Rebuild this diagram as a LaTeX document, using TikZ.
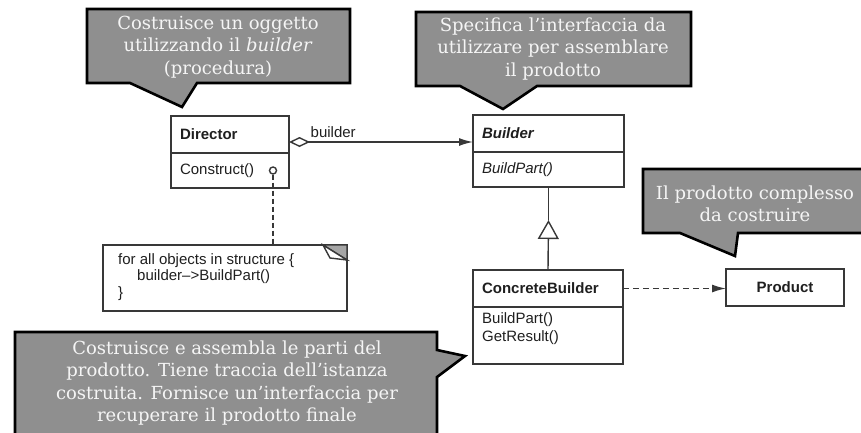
\documentclass[tikz,border=0pt]{standalone}
\usepackage{fontspec}
\setmainfont{DejaVu Serif}
\setsansfont{Liberation Sans}
\usetikzlibrary{positioning,arrows.meta}

\definecolor{umlline}{gray}{0.22}
\definecolor{umltext}{gray}{0.12}
\definecolor{calloutfill}{gray}{0.56}
\definecolor{callouttext}{gray}{0.96}

\newcommand{\umlfont}{\sffamily\fontsize{15}{18}\selectfont}

\tikzset{
  umlhead/.style={draw=umlline, line width=1.4pt, fill=white, anchor=north west,
    minimum height=37pt, inner xsep=9pt, outer sep=0pt, text width=#1, align=left,
    text=umltext, font=\umlfont\bfseries},
  umlbody/.style={umlhead=#1, font=\umlfont},
  umlconn/.style={draw=umlline, line width=1.4pt},
  assoc/.style={umlconn, -{Latex[length=14pt,width=8pt]}},
  callout/.style={draw=black, line width=2.6pt, fill=calloutfill, line join=miter},
  callouttext/.style={text=callouttext, align=center, font=\fontsize{18}{22.5}\selectfont},
}

\begin{document}
\begin{tikzpicture}[x=1pt,y=-1pt]
        \useasboundingbox (0,0) rectangle (861,432);
        % classes
        \node[umlhead=100pt] (director) at (171,116) {Director};
        \node[umlbody=100pt, minimum height=35pt, below=0pt of director] (directorops) {Construct()};
        \node[umlhead=133pt] (builder) at (473,115) {\itshape Builder};
        \node[umlbody=133pt, minimum height=35pt, below=0pt of builder] (builderops) {\itshape BuildPart()};
        \node[umlhead=132pt] (cbhead) at (473,270) {ConcreteBuilder};
        \node[umlbody=132pt, minimum height=57pt, below=0pt of cbhead] (cbbody) {};
        \node[anchor=north west, align=left, text=umltext, font=\umlfont, inner sep=0pt] (cbops)
          at ([shift={(9,5)}]cbbody.north west) {BuildPart()\\GetResult()};
        \node[umlhead=100pt, align=center] (product) at (726,269) {Product};
        % note
        \node[draw=umlline, line width=1.4pt, anchor=north west, minimum width=244pt,
          minimum height=66pt, outer sep=0pt] (note) at (103,245) {};
        \node[anchor=north west, align=left, text=umltext, inner sep=0pt,
          font=\sffamily\fontsize{15}{16.5}\selectfont] (notetext) at ([shift={(15,8)}]note.north west)
          {for all objects in structure \{\\\hspace*{19pt}builder–>BuildPart()\\\}};
        \draw[umlconn, fill=gray!70] ([xshift=-24pt]note.north east) -- (note.north east)
          -- ([yshift=-15pt]note.north east) -- cycle;
        \draw[umlconn, fill=white] ([xshift=-24pt]note.north east) -- ([shift={(-17,13)}]note.north east)
          -- ([yshift=-15pt]note.north east) -- cycle;
        \node[circle, draw=umlline, line width=1.4pt, inner sep=0pt, minimum size=7pt] (lolli)
          at ([xshift=-16pt]directorops.east) {};
        \draw[umlconn, dash pattern=on 5pt off 3pt] (lolli) -- (lolli |- note.north);
        % connectors
        \draw[assoc, {Diamond[open,length=21pt,width=10pt]}-{Latex[length=14pt,width=8pt]}]
          ([yshift=-7.5pt]director.east) -- ([yshift=-7.5pt]director.east -| builder.west)
          node[pos=0, anchor=south west, xshift=19pt, yshift=2pt, inner sep=2pt,
            text=umltext, font=\umlfont] (builderlbl) {builder};
        \coordinate (genapex) at ([yshift=-33pt]builderops.south);
        \draw[umlconn] (genapex) -- (builderops.south);
        \draw[umlconn, -{Triangle[open,length=19pt,width=21pt]}] (cbhead.north) -- (genapex);
        \draw[assoc, dash pattern=on 6pt off 4pt] (cbhead.east) -- (cbhead.east -| product.west);
        % callouts
        \draw[callout] (87,9) -- (350,9) -- (350,83) -- (197,83) -- (182,107) -- (130,83) -- (87,83) -- cycle;
        \node[callouttext] (tipdirector) at (218,47) {Costruisce un oggetto\\utilizzando il \textit{builder}\\(procedura)};
        \draw[callout] (416,12) -- (691,12) -- (691,86) -- (537,86) -- (503,109) -- (460,86) -- (416,86) -- cycle;
        \node[callouttext] (tipbuilder) at (553,49) {Specifica l’interfaccia da\\utilizzare per assemblare\\il prodotto};
        \draw[callout] (643,169) -- (868,169) -- (868,233) -- (738,233) -- (735,256) -- (680,233) -- (643,233) -- cycle;
        \node[callouttext] (tipproduct) at (755,204) {Il prodotto complesso\\da costruire};
        \draw[callout] (15,332) -- (437,332) -- (437,350) -- (465,356) -- (437,377) -- (437,440) -- (15,440) -- cycle;
        \node[callouttext] (tipconcrete) at (227,383) {Costruisce e assembla le parti del\\prodotto. Tiene traccia dell’istanza\\costruita. Fornisce un’interfaccia per\\recuperare il prodotto finale};
\end{tikzpicture}
\end{document}
